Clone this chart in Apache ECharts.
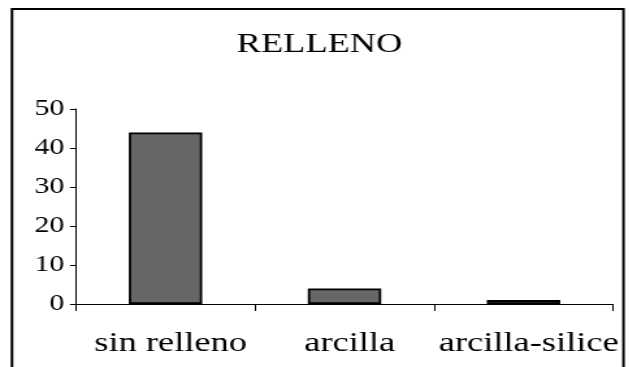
<!DOCTYPE html>
<html>
<head>
<meta charset="utf-8">
<script src="https://cdn.jsdelivr.net/npm/echarts@6/dist/echarts.min.js"></script>
<style>
html,body{margin:0;padding:0;background:#fff;overflow:hidden;width:630px;height:367px;}
#chart{width:485px;height:367px;transform:scaleX(1.3);transform-origin:0 0;}
</style>
</head>
<body>
<div id="chart"></div>
<script>
const titleText = 'RELLENO';
const categories = ['sin relleno', 'arcilla', 'arcilla-silice'];
const values = [44, 4, 1];
const yMin = 0, yMax = 50, yInterval = 10;

const S = 1.3; // horizontal stretch of the reference
const W = 485;
const font = '"Liberation Serif", "Times New Roman", serif';
const chart = echarts.init(document.getElementById('chart'), null, {renderer: 'canvas'});
chart.setOption({
  animation: false,
  backgroundColor: '#fff',
  title: {
    text: titleText,
    left: 313 / S,
    textAlign: 'center',
    top: 26,
    textStyle: {fontFamily: font, fontSize: 28, fontWeight: 'normal', color: '#000'}
  },
  grid: {left: 76 / S, right: W - 613 / S, top: 109, bottom: 63, containLabel: false},
  xAxis: {
    type: 'category',
    data: categories,
    boundaryGap: true,
    axisLine: {lineStyle: {color: '#000', width: 1}},
    axisTick: {show: true, length: 7, lineStyle: {color: '#000'}},
    axisLabel: {fontFamily: font, fontSize: 28, color: '#000', margin: 26, interval: 0,
                padding: [0, 0, 0, 8]}
  },
  yAxis: {
    type: 'value',
    min: yMin, max: yMax, interval: yInterval,
    axisLine: {show: true, lineStyle: {color: '#000', width: 1}},
    axisTick: {show: true, length: 4.6, lineStyle: {color: '#000'}},
    splitLine: {show: false},
    axisLabel: {fontFamily: font, fontSize: 23, color: '#000', margin: 9}
  },
  series: [{
    type: 'bar',
    data: values,
    barWidth: '41%',
    itemStyle: {color: '#666666', borderColor: '#000', borderWidth: 1.8}
  }],
  graphic: [{
    type: 'rect',
    z: 100,
    shape: {x: 12 / S, y: 9, width: (623.5 - 12) / S, height: 400},
    style: {fill: 'none', stroke: '#000', lineWidth: 2}
  }]
});
</script>
</body>
</html>
